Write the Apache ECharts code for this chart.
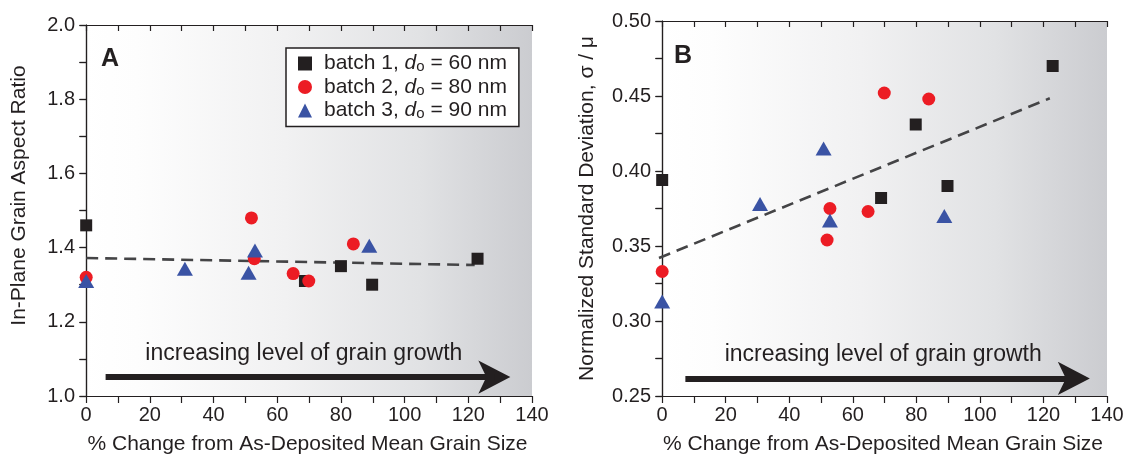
<!DOCTYPE html>
<html><head><meta charset="utf-8">
<script src="https://cdn.jsdelivr.net/npm/echarts@6/dist/echarts.min.js"></script>
<style>html,body{margin:0;padding:0;background:#fff}#c{width:1130px;height:460px}</style>
</head><body><div id="c"></div>
<script>
// ---- data ----
const batchLabels = ['batch 1', 'batch 2', 'batch 3'];
const batchD0 = [60, 80, 90];

const xTicks = [0, 10, 20, 30, 40, 50, 60, 70, 80, 90, 100, 110, 120, 130, 140];
const xLabels = [0, 20, 40, 60, 80, 100, 120, 140];
const yTicksA = [1.0, 1.1, 1.2, 1.3, 1.4, 1.5, 1.6, 1.7, 1.8, 1.9, 2.0];
const yLabelsA = [1.0, 1.2, 1.4, 1.6, 1.8, 2.0];
const yTicksB = [0.25, 0.275, 0.30, 0.325, 0.35, 0.375, 0.40, 0.425, 0.45, 0.475, 0.50];
const yLabelsB = [0.25, 0.30, 0.35, 0.40, 0.45, 0.50];

// Panel A: in-plane grain aspect ratio
const b1A_x = [0, 68.7, 80.0, 89.8, 122.9];
const b1A_y = [1.46, 1.31, 1.35, 1.30, 1.37];
const b2A_x = [0, 51.9, 52.8, 65.0, 69.9, 83.9];
const b2A_y = [1.32, 1.48, 1.37, 1.33, 1.31, 1.41];
const b3A_x = [0, 31.0, 51.0, 53.0, 88.9];
const b3A_y = [1.31, 1.343, 1.332, 1.392, 1.405];
const fitA_x = [0, 122];
const fitA_y = [1.372, 1.353];

// Panel B: normalized standard deviation
const b1B_x = [0, 68.9, 79.8, 89.8, 122.9];
const b1B_y = [0.394, 0.382, 0.431, 0.390, 0.470];
const b2B_x = [0, 51.9, 52.8, 64.8, 69.9, 83.9];
const b2B_y = [0.333, 0.354, 0.375, 0.373, 0.452, 0.448];
const b3B_x = [0, 30.8, 50.8, 52.8, 88.8];
const b3B_y = [0.313, 0.378, 0.415, 0.367, 0.370];
const fitB_x = [-1, 122];
const fitB_y = [0.342, 0.4485];

// annotation arrows (data coordinates): [shaft start, shaft end, arrow tip]
const arrowText = 'increasing level of grain growth';
const arrowA_x = [6.1, 128.1, 133.2];
const arrowA_y = 1.051;
const arrowB_x = [7.3, 129.3, 134.6];
const arrowB_y = 0.2617;

// ---- chart ----
const ink = '#231f20';
const colors = ['#231f20', '#ec1c24', '#3a53a4'];
const symbols = ['rect', 'circle', 'triangle'];
const symSizes = [12, 13, [16, 14]];
const font = "'Liberation Sans', Arial, Helvetica, sans-serif";
const names = batchLabels.map((b, i) => `${b}, do = ${batchD0[i]} nm`);
const zip = (xs, ys) => xs.map((x, i) => [x, ys[i]]);

const bg = {type: 'linear', x: 0, y: 0, x2: 1, y2: 0, colorStops: [
  {offset: 0, color: '#ffffff'}, {offset: 0.12, color: '#fdfdfd'},
  {offset: 0.45, color: '#f1f1f2'}, {offset: 0.75, color: '#e1e2e4'},
  {offset: 1, color: '#cbccd0'}]};

function mainX(grid) {
  return {
    type: 'value', gridIndex: grid, min: -1, max: 140, position: 'bottom',
    name: '% Change from As-Deposited Mean Grain Size', nameLocation: 'middle', nameGap: 38,
    nameTextStyle: {fontSize: 21, color: ink, fontFamily: font},
    axisLine: {show: true, lineStyle: {color: ink, width: 1.2}},
    axisTick: {show: true, inside: false, length: 7, customValues: xTicks, lineStyle: {color: ink, width: 1.2}},
    axisLabel: {show: true, customValues: xLabels, margin: 9, fontSize: 20, color: ink, fontFamily: font},
    splitLine: {show: false}
  };
}
function mirrorX(grid) {
  return {
    type: 'value', gridIndex: grid, min: -1, max: 140, position: 'top',
    axisLine: {show: true, lineStyle: {color: ink, width: 1.2}},
    axisTick: {show: true, inside: true, length: 6, customValues: xTicks, lineStyle: {color: ink, width: 1.2}},
    axisLabel: {show: false}, splitLine: {show: false}
  };
}
function mainY(grid, min, max, ticks, labels, digits, name, gap, pad) {
  return {
    type: 'value', gridIndex: grid, min: min, max: max, position: 'left',
    name: name, nameLocation: 'middle', nameGap: gap,
    nameTextStyle: {fontSize: 21, color: ink, fontFamily: font, padding: pad},
    axisLine: {show: true, lineStyle: {color: ink, width: 1.2}},
    axisTick: {show: true, inside: false, length: 7, customValues: ticks, lineStyle: {color: ink, width: 1.2}},
    axisLabel: {show: true, customValues: labels, margin: 8, fontSize: 20, color: ink, fontFamily: font,
      formatter: v => Number(v).toFixed(digits)},
    splitLine: {show: false}
  };
}
function mirrorY(grid, min, max, ticks) {
  return {
    type: 'value', gridIndex: grid, min: min, max: max, position: 'right',
    axisLine: {show: true, lineStyle: {color: ink, width: 1.2}},
    axisTick: {show: true, inside: true, length: 6, customValues: ticks, lineStyle: {color: ink, width: 1.2}},
    axisLabel: {show: false}, splitLine: {show: false}
  };
}

function scatter(i, xi, yi, data) {
  return {
    type: 'scatter', name: names[i], xAxisIndex: xi, yAxisIndex: yi,
    symbol: symbols[i], symbolSize: symSizes[i], data: data, z: 3 + i,
    itemStyle: {color: colors[i], opacity: 1}
  };
}
function fit(xi, yi, xs, ys) {
  return {
    type: 'line', xAxisIndex: xi, yAxisIndex: yi, data: zip(xs, ys), symbol: 'none', z: 2,
    lineStyle: {color: '#444446', width: 2.6, type: [12, 7]}, silent: true
  };
}
function arrowShaft(xi, yi, xs, y) {
  return {
    type: 'line', xAxisIndex: xi, yAxisIndex: yi, data: [], silent: true, z: 2,
    markLine: {
      silent: true, symbol: ['none', 'none'],
      lineStyle: {color: ink, width: 6, type: 'solid', cap: 'butt'},
      label: {show: true, position: 'insideMiddleTop', distance: 12, offset: [4, 0], formatter: arrowText,
        fontSize: 23, color: ink, fontFamily: font},
      emphasis: {disabled: true},
      data: [[{coord: [xs[0], y]}, {coord: [xs[1], y]}]]
    }
  };
}
function arrowHead(xi, yi, xs, y) {
  return {
    type: 'scatter', xAxisIndex: xi, yAxisIndex: yi, silent: true, z: 2,
    symbol: 'arrow', symbolSize: [25, 32], symbolRotate: -90,
    itemStyle: {color: ink, opacity: 1},
    data: [[xs[2], y]]
  };
}

const option = {
  animation: false,
  textStyle: {fontFamily: font},
  title: [
    {text: 'A', left: 101, top: 47, padding: 0, textStyle: {fontSize: 25, fontWeight: 'bold', color: ink, fontFamily: font}},
    {text: 'B', left: 674, top: 44, padding: 0, textStyle: {fontSize: 25, fontWeight: 'bold', color: ink, fontFamily: font}}
  ],
  grid: [
    {left: 83, top: 25, width: 449, height: 374, show: true, backgroundColor: bg, borderWidth: 0},
    {left: 659, top: 21, width: 448, height: 377, show: true, backgroundColor: bg, borderWidth: 0}
  ],
  legend: {
    orient: 'vertical', left: 286, top: 48, padding: [5, 12, 5, 12], itemGap: 2,
    itemWidth: 14, itemHeight: 14, backgroundColor: '#ffffff', borderColor: ink, borderWidth: 1.5,
    borderRadius: 0, data: names, selectedMode: false,
    formatter: n => {
      const m = n.match(/^(batch \d, )do( = \d+ nm)$/);
      return `{f|${m[1]}}{i|d}{s|o}{t|${m[2]}}`;
    },
    textStyle: {color: ink, fontFamily: font, fontSize: 21,
      rich: {
        f: {fontSize: 21, lineHeight: 22, color: ink, fontFamily: font, padding: [0, 0, 0, 7]},
        t: {fontSize: 21, lineHeight: 22, color: ink, fontFamily: font},
        i: {fontSize: 21, lineHeight: 22, fontStyle: 'italic', color: ink, fontFamily: font},
        s: {fontSize: 15, lineHeight: 14, verticalAlign: 'bottom', color: ink, fontFamily: font}
      }}
  },
  xAxis: [mainX(0), mirrorX(0), mainX(1), mirrorX(1)],
  yAxis: [
    mainY(0, 1.0, 2.0, yTicksA, yLabelsA, 1, 'In-Plane Grain Aspect Ratio', 53, [0, 0, 0, 30]),
    mirrorY(0, 1.0, 2.0, yTicksA),
    mainY(1, 0.25, 0.50, yTicksB, yLabelsB, 2, 'Normalized Standard Deviation, σ / μ', 61, 0),
    mirrorY(1, 0.25, 0.50, yTicksB)
  ],
  series: [
    fit(0, 0, fitA_x, fitA_y),
    arrowShaft(0, 0, arrowA_x, arrowA_y),
    arrowHead(0, 0, arrowA_x, arrowA_y),
    scatter(0, 0, 0, zip(b1A_x, b1A_y)),
    scatter(1, 0, 0, zip(b2A_x, b2A_y)),
    scatter(2, 0, 0, zip(b3A_x, b3A_y)),
    fit(2, 2, fitB_x, fitB_y),
    arrowShaft(2, 2, arrowB_x, arrowB_y),
    arrowHead(2, 2, arrowB_x, arrowB_y),
    scatter(0, 2, 2, zip(b1B_x, b1B_y)),
    scatter(1, 2, 2, zip(b2B_x, b2B_y)),
    scatter(2, 2, 2, zip(b3B_x, b3B_y))
  ]
};
const chart = echarts.init(document.getElementById('c'), null, {renderer: 'canvas'});
chart.setOption(option);
</script></body></html>
